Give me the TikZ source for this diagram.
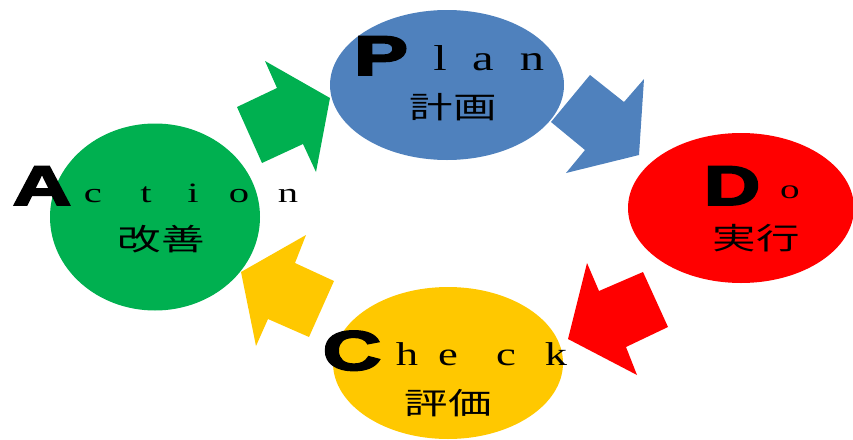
\documentclass[tikz,border=0pt]{standalone}
\usepackage{fontspec}
\usetikzlibrary{shapes.geometric}

\newfontfamily\heavyfont[FakeBold=3]{Liberation Sans Bold}
\newfontfamily\letterfont{Liberation Serif}
\newfontfamily\cjk{Noto Sans CJK JP}

\definecolor{planblue}{HTML}{4F81BD}
\definecolor{doRed}{HTML}{FF0000}
\definecolor{checkYellow}{HTML}{FFC800}
\definecolor{actGreen}{HTML}{00B050}

\tikzset{
  phase/.style={ellipse, inner sep=0pt, draw=none},
  capital/.style={anchor=base, inner sep=0pt,
    font=\heavyfont\fontsize{56}{56}\selectfont},
  lowercase/.style={anchor=base, inner sep=0pt},
  kanji/.style={inner sep=0pt, font=\cjk\fontsize{30}{30}\selectfont},
}

\begin{document}
\begin{tikzpicture}[x=1pt, y=-1pt]
  \useasboundingbox (0,0) rectangle (853,439);

  % the four phases
  \node[phase, fill=planblue, minimum width=234pt, minimum height=150pt] (plan) at (447,85) {};
  \node[phase, fill=doRed, minimum width=226pt, minimum height=150pt] (do) at (741,208) {};
  \node[phase, fill=checkYellow, minimum width=230pt, minimum height=152pt] (check) at (448,363) {};
  \node[phase, fill=actGreen, minimum width=210pt, minimum height=187pt] (act) at (155,217) {};

  % block arrows running clockwise
  \fill[actGreen] (330,98) -- (265,61) -- (277,88) -- (237,107) -- (262,163) -- (303,144) -- (316,172) -- cycle;
  \fill[planblue] (639,155) -- (644,79) -- (624,102) -- (590,75) -- (551,122) -- (585,150) -- (566,173) -- cycle;
  \fill[doRed] (568,339) -- (587,263) -- (599,291) -- (643,272) -- (668,327) -- (626,347) -- (637,375) -- cycle;
  \fill[checkYellow] (241,272) -- (306,235) -- (295,263) -- (334,281) -- (309,337) -- (268,319) -- (256,346) -- cycle;

  % Plan
  \node[capital] (planP) at (381,75) {\scalebox{1.45}[1]{P}};
  \foreach \ch/\x [count=\i] in {l/440,a/483,n/532}
    \node[lowercase, font=\letterfont\fontsize{36}{36}\selectfont] (planl\i) at (\x,70) {\scalebox{1.35}[1]{\ch}};
  \node[kanji] (plank) at (453,107) {\scalebox{1.45}[1]{計画}};

  % Do
  \node[capital] (doD) at (732,205) {\scalebox{1.4}[1]{D}};
  \node[lowercase, font=\letterfont\fontsize{27}{27}\selectfont] (dol1) at (790,198) {\scalebox{1.45}[1]{o}};
  \node[kanji] (dok) at (756,238) {\scalebox{1.45}[1]{実行}};

  % Check
  \node[capital] (checkC) at (352,370) {\scalebox{1.45}[1]{C}};
  \foreach \ch/\x [count=\i] in {h/407,e/448,c/506,k/556}
    \node[lowercase, font=\letterfont\fontsize{33}{33}\selectfont] (checkl\i) at (\x,365) {\scalebox{1.35}[1]{\ch}};
  \node[kanji] (checkk) at (448,403) {\scalebox{1.45}[1]{評価}};

  % Action
  \node[capital] (actA) at (42,205) {\scalebox{1.45}[1]{A}};
  \foreach \ch/\x [count=\i] in {c/93,t/146,i/193,o/239,n/288}
    \node[lowercase, font=\letterfont\fontsize{28}{28}\selectfont] (actl\i) at (\x,202) {\scalebox{1.45}[1]{\ch}};
  \node[kanji] (actk) at (161,239) {\scalebox{1.45}[1]{改善}};
\end{tikzpicture}
\end{document}
